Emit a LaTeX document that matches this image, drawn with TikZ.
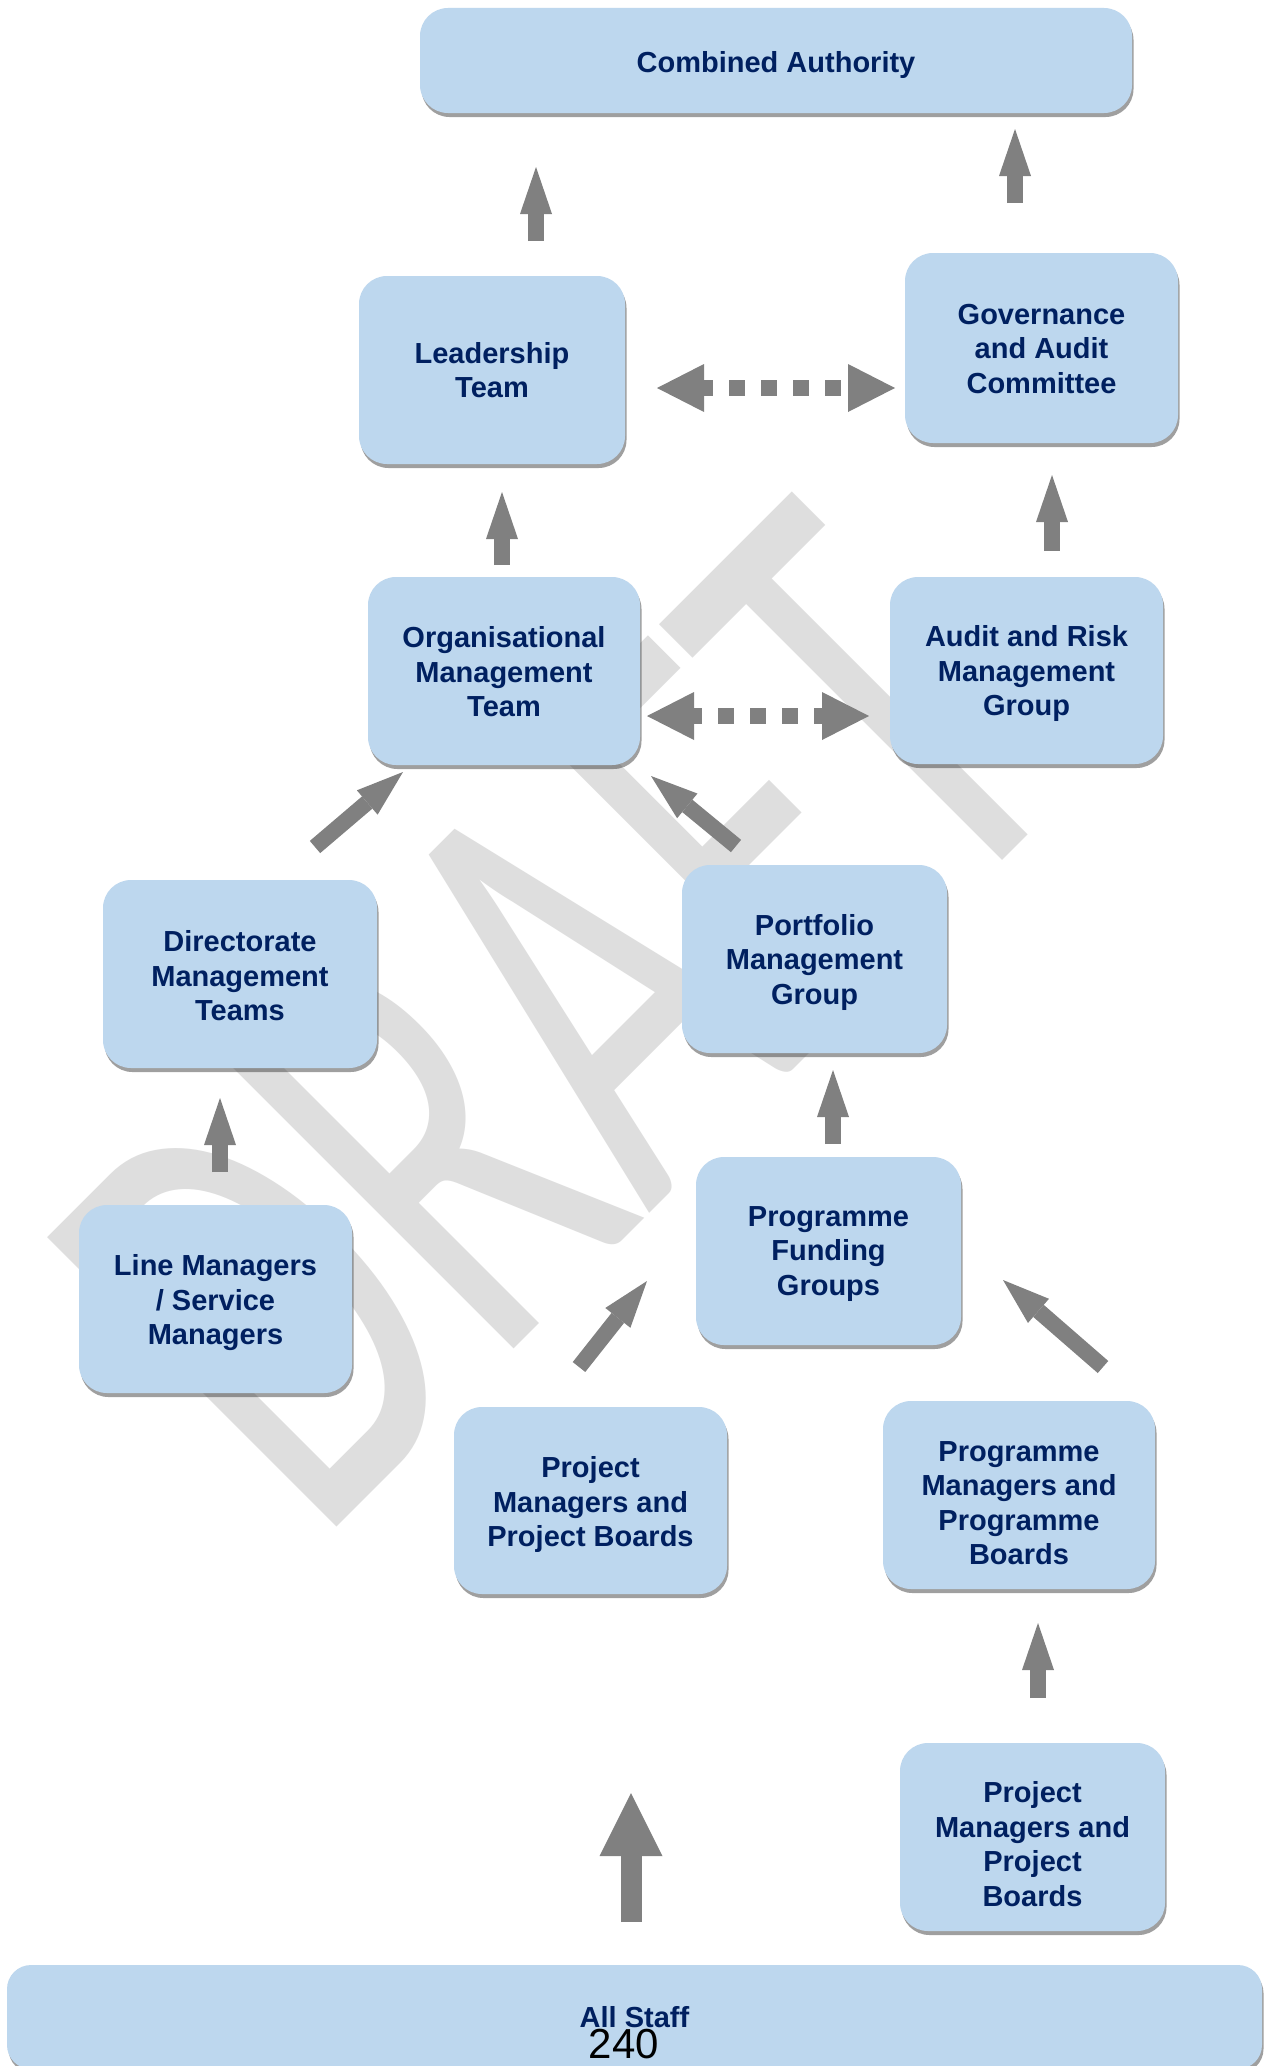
\documentclass[tikz,border=0pt]{standalone}
\usepackage{fontspec}
\setmainfont{Liberation Sans}
\newfontfamily\wmfont{Carlito}
\usetikzlibrary{arrows.meta,shadows}
\definecolor{boxblue}{RGB}{189,215,238}
\definecolor{navy}{RGB}{0,32,96}
\definecolor{arrgray}{RGB}{128,128,128}
\definecolor{wmgray}{RGB}{222,222,222}
\begin{document}
\begin{tikzpicture}[x=1pt,y=-1pt,
  box/.style={draw=none, fill=boxblue, rounded corners=28pt, inner sep=0pt,
    drop shadow={shadow xshift=1.5pt,shadow yshift=-4pt,opacity=0.5,fill=black!75}},
  btext/.style={text=navy, font=\bfseries\fontsize{29}{34.5}\selectfont, align=center, inner sep=0pt},
  uparr/.style={draw=arrgray, line width=16pt, -{Triangle[length=47pt,width=32pt,line width=0pt]}},
  bigarr/.style={draw=arrgray, line width=21pt, -{Triangle[length=63pt,width=63pt,line width=0pt]}},
  dblarr/.style={draw=arrgray, line width=16pt, dash pattern=on 16pt off 16pt,
    {Triangle[length=47pt,width=48pt,line width=0pt]}-{Triangle[length=47pt,width=48pt,line width=0pt]}},
  wm/.style={anchor=base west, inner sep=0pt, outer sep=0pt, rotate=45, yscale=1.575,
    text=wmgray, font=\wmfont\fontsize{405}{405}\selectfont}
]
\clip (0,0) rectangle (1271,2066);
\useasboundingbox (0,0) rectangle (1271,2066);
\fill[white] (0,0) rectangle (1271,2066);

% watermark
\node[wm] (wmark) at (317,1546) {DRAFT};

% boxes
\node[box, minimum width=712pt, minimum height=105pt] (ca) at (776,60.5) {};
\node[box, minimum width=266pt, minimum height=188pt] (lt) at (492,370) {};
\node[box, minimum width=273pt, minimum height=190pt] (gac) at (1041.5,348) {};
\node[box, minimum width=272pt, minimum height=188pt] (omt) at (504,671) {};
\node[box, minimum width=273pt, minimum height=187pt] (armg) at (1026.5,670.5) {};
\node[box, minimum width=274pt, minimum height=188pt] (dmt) at (240,974) {};
\node[box, minimum width=265pt, minimum height=188pt] (pmg) at (814.5,959) {};
\node[box, minimum width=265pt, minimum height=188pt] (pfg) at (828.5,1251) {};
\node[box, minimum width=273pt, minimum height=188pt] (lm) at (215.5,1299) {};
\node[box, minimum width=273pt, minimum height=187pt] (pmpbA) at (590.5,1500.5) {};
\node[box, minimum width=272pt, minimum height=188pt] (prmpb) at (1019,1495) {};
\node[box, minimum width=265pt, minimum height=188pt] (pmpbB) at (1032.5,1837) {};
\node[box, rounded corners=24pt, minimum width=1255pt, minimum height=104pt] (all) at (634.5,2017) {};

% box texts
\node[btext] (ca-t) at ([yshift=-5pt]ca.center) {Combined Authority};
\node[btext] (lt-t) at (lt.center) {Leadership\\Team};
\node[btext] (gac-t) at ([yshift=-1pt]gac.center) {Governance\\and Audit\\Committee};
\node[btext] (omt-t) at ([yshift=-1pt]omt.center) {Organisational\\Management\\Team};
\node[btext] (armg-t) at ([yshift=-3pt]armg.center) {Audit and Risk\\Management\\Group};
\node[btext] (dmt-t) at ([yshift=-2pt]dmt.center) {Directorate\\Management\\Teams};
\node[btext] (pmg-t) at ([yshift=-3pt]pmg.center) {Portfolio\\Management\\Group};
\node[btext] (pfg-t) at ([yshift=-3pt]pfg.center) {Programme\\Funding\\Groups};
\node[btext] (lm-t) at ([yshift=-4pt]lm.center) {Line Managers\\/ Service\\Managers};
\node[btext] (pmpbA-t) at ([yshift=-4pt]pmpbA.center) {Project\\Managers and\\Project Boards};
\node[btext] (prmpb-t) at ([yshift=-8pt]prmpb.center) {Programme\\Managers and\\Programme\\Boards};
\node[btext] (pmpbB-t) at ([yshift=-7pt]pmpbB.center) {Project\\Managers and\\Project\\Boards};
\node[btext] (all-t) at (all.center) {All Staff};
\node[anchor=base, inner sep=0pt, text=black, font=\fontsize{42}{42}\selectfont] (pgnum) at (624,2058) {240};

% arrow end points
\coordinate (a1t) at (536,241);  \coordinate (a1h) at (536,167);
\coordinate (a2t) at (1015,203); \coordinate (a2h) at (1015,129);
\coordinate (a3t) at (502,565);  \coordinate (a3h) at (502,492);
\coordinate (a4t) at (1052,551); \coordinate (a4h) at (1052,475);
\coordinate (a5t) at (315,847);  \coordinate (a5h) at (403,772);
\coordinate (a6t) at (736,846);  \coordinate (a6h) at (651,776);
\coordinate (a7t) at (220,1172); \coordinate (a7h) at (220,1098);
\coordinate (a8t) at (833,1144); \coordinate (a8h) at (833,1070);
\coordinate (a9t) at (579,1367); \coordinate (a9h) at (647,1281);
\coordinate (a10t) at (1103,1367); \coordinate (a10h) at (1003,1280);
\coordinate (a11t) at (1038,1698); \coordinate (a11h) at (1038,1623);
\coordinate (a12t) at (631,1922); \coordinate (a12h) at (631,1793);
\coordinate (d1l) at (657,388); \coordinate (d1r) at (895,388);
\coordinate (d2l) at (647,716); \coordinate (d2r) at (869,716);

\draw[uparr] (a1t) -- (a1h);
\draw[uparr] (a2t) -- (a2h);
\draw[uparr] (a3t) -- (a3h);
\draw[uparr] (a4t) -- (a4h);
\draw[uparr] (a5t) -- (a5h);
\draw[uparr] (a6t) -- (a6h);
\draw[uparr] (a7t) -- (a7h);
\draw[uparr] (a8t) -- (a8h);
\draw[uparr] (a9t) -- (a9h);
\draw[uparr] (a10t) -- (a10h);
\draw[uparr] (a11t) -- (a11h);
\draw[bigarr] (a12t) -- (a12h);
\draw[dblarr, dash phase=7pt] (d1l) -- (d1r);
\draw[dblarr, dash phase=8pt] (d2l) -- (d2r);
\end{tikzpicture}
\end{document}
